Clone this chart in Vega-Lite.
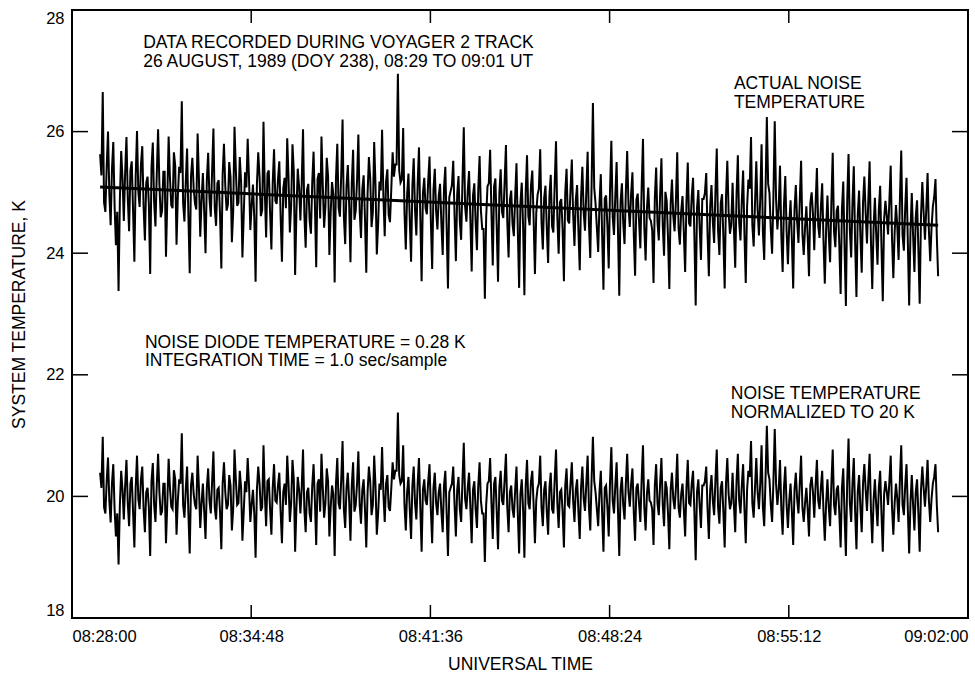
{
"$schema": "https://vega.github.io/schema/vega-lite/v6.json",
"width": 896, "height": 608,
"autosize": {"type": "none"},
"padding": {"left": 72, "top": 10, "right": 7, "bottom": 59},
"background": "white",
"config": {"view": {"stroke": "black", "strokeWidth": 2}, "font": "Liberation Sans"},
"datasets": {
"noise": [
{"s":64,"a":25.63,"b":20.39},{"s":70,"a":26.65,"b":20.98},{"s":76,"a":24.68,"b":19.72},{"s":82,"a":26.00,"b":20.64},{"s":88,"a":24.46,"b":19.57},{"s":94,"a":25.83,"b":20.53},{"s":100,"a":24.13,"b":19.34},{"s":106,"a":23.38,"b":18.88},{"s":112,"a":25.68,"b":20.42},{"s":118,"a":24.53,"b":19.62},
{"s":124,"a":25.91,"b":20.60},{"s":130,"a":24.36,"b":19.51},{"s":136,"a":25.51,"b":20.32},{"s":142,"a":23.86,"b":19.16},{"s":148,"a":26.01,"b":20.67},{"s":154,"a":24.76,"b":19.79},{"s":160,"a":25.76,"b":20.49},{"s":166,"a":24.21,"b":19.41},{"s":172,"a":25.26,"b":20.14},{"s":178,"a":23.66,"b":19.02},
{"s":184,"a":25.82,"b":20.55},{"s":190,"a":24.44,"b":19.58},{"s":196,"a":26.04,"b":20.70},{"s":202,"a":24.59,"b":19.69},{"s":208,"a":25.34,"b":20.21},{"s":214,"a":23.94,"b":19.23},{"s":220,"a":25.92,"b":20.62},{"s":226,"a":24.79,"b":19.83},{"s":232,"a":25.66,"b":20.43},{"s":238,"a":24.14,"b":19.37},
{"s":244,"a":25.42,"b":20.28},{"s":250,"a":26.50,"b":21.04},{"s":256,"a":24.52,"b":19.65},{"s":262,"a":25.72,"b":20.49},{"s":268,"a":23.67,"b":19.06},{"s":274,"a":25.57,"b":20.39},{"s":280,"a":24.82,"b":19.86},{"s":286,"a":25.97,"b":20.67},{"s":292,"a":24.27,"b":19.48},{"s":298,"a":25.32,"b":20.21},
{"s":304,"a":24.00,"b":19.30},{"s":310,"a":25.65,"b":20.46},{"s":316,"a":24.60,"b":19.72},{"s":322,"a":26.05,"b":20.74},{"s":328,"a":24.45,"b":19.62},{"s":334,"a":25.20,"b":20.14},{"s":340,"a":23.75,"b":19.13},{"s":346,"a":25.80,"b":20.56},{"s":352,"a":24.70,"b":19.79},{"s":358,"a":25.50,"b":20.35},
{"s":364,"a":24.18,"b":19.44},{"s":370,"a":26.08,"b":20.77},{"s":376,"a":24.78,"b":19.86},{"s":382,"a":25.58,"b":20.42},{"s":388,"a":23.93,"b":19.27},{"s":394,"a":25.33,"b":20.25},{"s":400,"a":25.88,"b":20.63},{"s":406,"a":24.38,"b":19.58},{"s":412,"a":25.13,"b":20.11},{"s":418,"a":23.53,"b":18.99},
{"s":424,"a":25.66,"b":20.49},{"s":430,"a":24.61,"b":19.76},{"s":436,"a":26.16,"b":20.84},{"s":442,"a":24.26,"b":19.51},{"s":448,"a":25.36,"b":20.28},{"s":454,"a":24.06,"b":19.37},{"s":460,"a":25.71,"b":20.53},{"s":466,"a":24.81,"b":19.90},{"s":472,"a":25.51,"b":20.39},{"s":478,"a":23.86,"b":19.23},
{"s":484,"a":25.24,"b":20.21},{"s":490,"a":25.89,"b":20.67},{"s":496,"a":24.34,"b":19.58},{"s":502,"a":25.79,"b":20.60},{"s":508,"a":23.64,"b":19.09},{"s":514,"a":25.39,"b":20.32},{"s":520,"a":24.54,"b":19.72},{"s":526,"a":26.04,"b":20.77},{"s":532,"a":24.09,"b":19.41},{"s":538,"a":25.14,"b":20.14},
{"s":544,"a":24.32,"b":19.58},{"s":550,"a":25.67,"b":20.53},{"s":556,"a":23.77,"b":19.20},{"s":562,"a":25.32,"b":20.28},{"s":568,"a":25.92,"b":20.70},{"s":574,"a":24.42,"b":19.65},{"s":580,"a":25.57,"b":20.46},{"s":586,"a":23.97,"b":19.34},{"s":592,"a":25.17,"b":20.18},{"s":598,"a":23.52,"b":19.02},
{"s":604,"a":25.80,"b":20.63},{"s":610,"a":24.60,"b":19.79},{"s":616,"a":26.20,"b":20.91},{"s":622,"a":24.15,"b":19.48},{"s":628,"a":25.45,"b":20.39},{"s":634,"a":23.85,"b":19.27},{"s":640,"a":25.70,"b":20.56},{"s":646,"a":24.70,"b":19.86},{"s":652,"a":25.95,"b":20.74},{"s":658,"a":24.25,"b":19.55},
{"s":664,"a":25.28,"b":20.28},{"s":670,"a":23.68,"b":19.16},{"s":676,"a":25.58,"b":20.49},{"s":682,"a":24.43,"b":19.69},{"s":688,"a":25.83,"b":20.67},{"s":694,"a":23.98,"b":19.37},{"s":700,"a":25.18,"b":20.21},{"s":706,"a":26.03,"b":20.81},{"s":712,"a":24.28,"b":19.58},{"s":718,"a":25.38,"b":20.35},
{"s":724,"a":24.51,"b":19.76},{"s":730,"a":25.66,"b":20.56},{"s":736,"a":25.46,"b":20.42},{"s":742,"a":26.95,"b":21.38},{"s":748,"a":25.16,"b":20.21},{"s":754,"a":26.06,"b":20.84},{"s":760,"a":24.06,"b":19.44},{"s":766,"a":25.31,"b":20.32},{"s":772,"a":23.86,"b":19.30},{"s":778,"a":25.56,"b":20.49},
{"s":784,"a":24.29,"b":19.62},{"s":790,"a":25.74,"b":20.63},{"s":796,"a":23.54,"b":19.09},{"s":802,"a":25.24,"b":20.28},{"s":808,"a":24.64,"b":19.86},{"s":814,"a":25.59,"b":20.53},{"s":820,"a":23.74,"b":19.23},{"s":826,"a":25.39,"b":20.39},{"s":832,"a":24.39,"b":19.69},{"s":838,"a":25.14,"b":20.21},
{"s":844,"a":23.97,"b":19.41},{"s":850,"a":25.42,"b":20.42},{"s":856,"a":23.42,"b":19.02},{"s":862,"a":25.02,"b":20.14},{"s":868,"a":25.52,"b":20.49},{"s":874,"a":23.87,"b":19.34},{"s":880,"a":25.27,"b":20.32},{"s":886,"a":24.22,"b":19.58},{"s":892,"a":26.07,"b":20.88},{"s":898,"a":24.52,"b":19.79},
{"s":904,"a":25.35,"b":20.39},{"s":910,"a":23.70,"b":19.23},{"s":916,"a":25.15,"b":20.25},{"s":922,"a":24.05,"b":19.48},{"s":928,"a":25.60,"b":20.56},{"s":934,"a":24.40,"b":19.72},{"s":940,"a":23.25,"b":18.92},{"s":946,"a":25.10,"b":20.21},{"s":952,"a":25.70,"b":20.63},{"s":958,"a":23.80,"b":19.30},
{"s":964,"a":25.23,"b":20.32},{"s":970,"a":23.53,"b":19.13},{"s":976,"a":25.38,"b":20.42},{"s":982,"a":24.58,"b":19.86},{"s":988,"a":25.78,"b":20.70},{"s":994,"a":23.93,"b":19.41},{"s":1000,"a":25.03,"b":20.18},{"s":1006,"a":24.28,"b":19.65},{"s":1012,"a":25.48,"b":20.49},{"s":1018,"a":23.43,"b":19.06},
{"s":1024,"a":25.16,"b":20.28},{"s":1030,"a":23.31,"b":18.99},{"s":1036,"a":25.61,"b":20.60},{"s":1042,"a":24.46,"b":19.79},{"s":1048,"a":25.36,"b":20.42},{"s":1054,"a":23.66,"b":19.23},{"s":1060,"a":24.96,"b":20.14},{"s":1066,"a":25.71,"b":20.67},{"s":1072,"a":24.06,"b":19.51},{"s":1078,"a":25.11,"b":20.25},
{"s":1084,"a":23.84,"b":19.37},{"s":1090,"a":25.29,"b":20.39},{"s":1096,"a":24.34,"b":19.72},{"s":1102,"a":25.84,"b":20.77},{"s":1108,"a":23.99,"b":19.48},{"s":1114,"a":24.89,"b":20.11},{"s":1120,"a":23.54,"b":19.16},{"s":1126,"a":25.39,"b":20.46},{"s":1132,"a":24.49,"b":19.83},{"s":1138,"a":25.54,"b":20.56},
{"s":1144,"a":24.12,"b":19.58},{"s":1150,"a":25.12,"b":20.28},{"s":1156,"a":23.72,"b":19.30},{"s":1162,"a":25.42,"b":20.49},{"s":1168,"a":24.37,"b":19.76},{"s":1174,"a":25.67,"b":20.67},{"s":1180,"a":23.92,"b":19.44},{"s":1186,"a":26.47,"b":20.98},{"s":1192,"a":24.82,"b":20.07},{"s":1198,"a":24.02,"b":19.51},
{"s":1204,"a":25.30,"b":20.42},{"s":1210,"a":23.40,"b":19.09},{"s":1216,"a":24.95,"b":20.18},{"s":1222,"a":23.75,"b":19.34},{"s":1228,"a":25.85,"b":20.81},{"s":1234,"a":24.30,"b":19.72},{"s":1240,"a":25.50,"b":20.56},{"s":1246,"a":23.30,"b":19.02},{"s":1252,"a":25.15,"b":20.32},{"s":1258,"a":24.15,"b":19.62},
{"s":1264,"a":25.68,"b":20.70},{"s":1270,"a":24.43,"b":19.83},{"s":1276,"a":25.33,"b":20.46},{"s":1282,"a":23.63,"b":19.27},{"s":1288,"a":24.98,"b":20.21},{"s":1294,"a":24.08,"b":19.58},{"s":1300,"a":25.88,"b":20.84},{"s":1306,"a":23.88,"b":19.44},{"s":1312,"a":25.08,"b":20.28},{"s":1318,"a":24.53,"b":19.90},
{"s":1324,"a":23.51,"b":19.20},{"s":1330,"a":25.41,"b":20.53},{"s":1336,"a":24.21,"b":19.69},{"s":1342,"a":25.56,"b":20.63},{"s":1348,"a":23.96,"b":19.51},{"s":1354,"a":24.86,"b":20.14},{"s":1360,"a":23.41,"b":19.13},{"s":1366,"a":25.21,"b":20.39},{"s":1372,"a":24.36,"b":19.79},{"s":1378,"a":25.66,"b":20.70},
{"s":1384,"a":24.14,"b":19.65},{"s":1390,"a":24.94,"b":20.21},{"s":1396,"a":23.69,"b":19.34},{"s":1402,"a":25.49,"b":20.60},{"s":1408,"a":24.44,"b":19.86},{"s":1414,"a":25.24,"b":20.42},{"s":1420,"a":23.14,"b":18.95},{"s":1426,"a":25.04,"b":20.28},{"s":1432,"a":23.89,"b":19.48},{"s":1438,"a":24.89,"b":20.18},
{"s":1444,"a":25.32,"b":20.49},{"s":1450,"a":23.62,"b":19.30},{"s":1456,"a":25.12,"b":20.35},{"s":1462,"a":24.17,"b":19.69},{"s":1468,"a":25.72,"b":20.77},{"s":1474,"a":23.97,"b":19.55},{"s":1480,"a":24.97,"b":20.25},{"s":1486,"a":23.42,"b":19.16},{"s":1492,"a":25.52,"b":20.63},{"s":1498,"a":24.32,"b":19.79},
{"s":1504,"a":25.16,"b":20.39},{"s":1510,"a":23.76,"b":19.41},{"s":1516,"a":25.61,"b":20.70},{"s":1522,"a":24.21,"b":19.72},{"s":1528,"a":25.36,"b":20.53},{"s":1534,"a":23.51,"b":19.23},{"s":1540,"a":25.21,"b":20.42},{"s":1546,"a":25.91,"b":20.91},{"s":1552,"a":24.11,"b":19.65},{"s":1558,"a":25.51,"b":20.63},
{"s":1564,"a":24.29,"b":19.79},{"s":1570,"a":25.79,"b":20.84},{"s":1576,"a":23.89,"b":19.51},{"s":1582,"a":26.24,"b":21.16},{"s":1588,"a":24.99,"b":20.28},{"s":1594,"a":23.99,"b":19.58},{"s":1600,"a":26.17,"b":21.11},{"s":1606,"a":24.39,"b":19.86},{"s":1612,"a":25.44,"b":20.60},{"s":1618,"a":23.69,"b":19.37},
{"s":1624,"a":25.27,"b":20.49},{"s":1630,"a":23.82,"b":19.48},{"s":1636,"a":24.87,"b":20.21},{"s":1642,"a":23.42,"b":19.20},{"s":1648,"a":25.12,"b":20.39},{"s":1654,"a":24.17,"b":19.72},{"s":1660,"a":25.52,"b":20.67},{"s":1666,"a":23.97,"b":19.58},{"s":1672,"a":24.77,"b":20.14},{"s":1678,"a":23.62,"b":19.34},
{"s":1684,"a":25.00,"b":20.32},{"s":1690,"a":24.05,"b":19.65},{"s":1696,"a":25.40,"b":20.60},{"s":1702,"a":24.25,"b":19.79},{"s":1708,"a":25.15,"b":20.42},{"s":1714,"a":23.50,"b":19.27},{"s":1720,"a":24.95,"b":20.28},{"s":1726,"a":23.85,"b":19.51},{"s":1732,"a":25.65,"b":20.77},{"s":1738,"a":24.10,"b":19.69},
{"s":1744,"a":24.78,"b":20.18},{"s":1750,"a":23.33,"b":19.16},{"s":1756,"a":25.18,"b":20.46},{"s":1762,"a":23.13,"b":19.02},{"s":1768,"a":25.63,"b":20.95},{"s":1774,"a":23.93,"b":19.58},{"s":1780,"a":25.43,"b":20.63},{"s":1786,"a":23.28,"b":19.13},{"s":1792,"a":25.03,"b":20.35},{"s":1798,"a":23.68,"b":19.41},
{"s":1804,"a":25.26,"b":20.53},{"s":1810,"a":24.16,"b":19.76},{"s":1816,"a":25.51,"b":20.70},{"s":1822,"a":23.41,"b":19.23},{"s":1828,"a":24.91,"b":20.28},{"s":1834,"a":23.81,"b":19.51},{"s":1840,"a":25.11,"b":20.42},{"s":1846,"a":23.21,"b":19.09},{"s":1852,"a":24.86,"b":20.25},{"s":1858,"a":24.31,"b":19.86},
{"s":1864,"a":25.44,"b":20.67},{"s":1870,"a":23.59,"b":19.37},{"s":1876,"a":24.79,"b":20.21},{"s":1882,"a":23.89,"b":19.58},{"s":1888,"a":25.69,"b":20.84},{"s":1894,"a":24.04,"b":19.69},{"s":1900,"a":25.24,"b":20.53},{"s":1906,"a":23.14,"b":19.06},{"s":1912,"a":24.99,"b":20.35},{"s":1918,"a":23.69,"b":19.44},
{"s":1924,"a":24.87,"b":20.28},{"s":1930,"a":23.17,"b":19.09},{"s":1936,"a":25.17,"b":20.49},{"s":1942,"a":24.22,"b":19.83},{"s":1948,"a":25.32,"b":20.60},{"s":1954,"a":23.87,"b":19.58},{"s":1960,"a":24.77,"b":20.21},{"s":1966,"a":25.22,"b":20.53},{"s":1972,"a":23.62,"b":19.41},
{"s":67,"a":25.28,"b":20.14},{"s":73,"a":24.83,"b":19.82},{"s":79,"a":25.43,"b":20.25},{"s":85,"a":24.98,"b":19.93},{"s":91,"a":25.38,"b":20.21},{"s":97,"a":24.78,"b":19.79},{"s":103,"a":24.68,"b":19.72},{"s":109,"a":24.88,"b":19.86},{"s":115,"a":25.23,"b":20.11},{"s":121,"a":25.33,"b":20.18},
{"s":127,"a":24.91,"b":19.89},{"s":133,"a":25.36,"b":20.21},{"s":139,"a":24.71,"b":19.75},{"s":145,"a":25.26,"b":20.14},{"s":151,"a":25.01,"b":19.96},{"s":157,"a":25.46,"b":20.28},{"s":163,"a":24.76,"b":19.79},{"s":169,"a":25.16,"b":20.07},{"s":175,"a":24.81,"b":19.82},{"s":181,"a":25.41,"b":20.25},
{"s":187,"a":24.84,"b":19.86},{"s":193,"a":25.29,"b":20.18},{"s":199,"a":25.14,"b":20.07},{"s":205,"a":24.69,"b":19.75},{"s":211,"a":25.34,"b":20.21},{"s":217,"a":24.89,"b":19.89},{"s":223,"a":25.24,"b":20.14},{"s":229,"a":24.74,"b":19.79},{"s":235,"a":25.44,"b":20.28},{"s":241,"a":24.94,"b":19.93},
{"s":247,"a":25.32,"b":20.21},{"s":253,"a":24.82,"b":19.86},{"s":259,"a":25.17,"b":20.11},{"s":265,"a":24.62,"b":19.72},{"s":271,"a":25.27,"b":20.18},{"s":277,"a":25.07,"b":20.04},{"s":283,"a":24.72,"b":19.79},{"s":289,"a":25.22,"b":20.14},{"s":295,"a":24.87,"b":19.89},{"s":301,"a":24.67,"b":19.75},
{"s":307,"a":25.20,"b":20.14},{"s":313,"a":24.90,"b":19.93},{"s":319,"a":25.35,"b":20.25},{"s":325,"a":24.75,"b":19.82},{"s":331,"a":25.15,"b":20.11},{"s":337,"a":24.65,"b":19.75},{"s":343,"a":25.30,"b":20.21},{"s":349,"a":25.10,"b":20.07},{"s":355,"a":24.80,"b":19.86},{"s":361,"a":25.25,"b":20.18},
{"s":367,"a":24.68,"b":19.79},{"s":373,"a":25.38,"b":20.28},{"s":379,"a":24.83,"b":19.89},{"s":385,"a":25.18,"b":20.14},{"s":391,"a":24.63,"b":19.75},{"s":397,"a":25.08,"b":20.07},{"s":403,"a":25.23,"b":20.18},{"s":409,"a":24.78,"b":19.86},{"s":415,"a":24.58,"b":19.72},{"s":421,"a":25.13,"b":20.11},
{"s":427,"a":25.26,"b":20.21},{"s":433,"a":24.71,"b":19.82},{"s":439,"a":25.01,"b":20.04},{"s":445,"a":25.31,"b":20.25},{"s":451,"a":24.66,"b":19.79},{"s":457,"a":25.16,"b":20.14},{"s":463,"a":24.86,"b":19.93},{"s":469,"a":25.21,"b":20.18},{"s":475,"a":24.61,"b":19.75},{"s":481,"a":25.06,"b":20.07},
{"s":487,"a":24.74,"b":19.86},{"s":493,"a":25.24,"b":20.21},{"s":499,"a":24.79,"b":19.89},{"s":505,"a":25.34,"b":20.28},{"s":511,"a":24.69,"b":19.82},{"s":517,"a":25.09,"b":20.11},{"s":523,"a":25.14,"b":20.14},{"s":529,"a":24.64,"b":19.79},{"s":535,"a":25.04,"b":20.07},{"s":541,"a":24.54,"b":19.72},
{"s":547,"a":25.17,"b":20.18},{"s":553,"a":24.82,"b":19.93},{"s":559,"a":25.22,"b":20.21},{"s":565,"a":24.57,"b":19.75},{"s":571,"a":25.12,"b":20.14},{"s":577,"a":24.77,"b":19.89},{"s":583,"a":25.27,"b":20.25},{"s":589,"a":24.67,"b":19.82},{"s":595,"a":24.97,"b":20.04},{"s":601,"a":25.22,"b":20.21},
{"s":607,"a":24.75,"b":19.89},{"s":613,"a":25.30,"b":20.28},{"s":619,"a":24.60,"b":19.79},{"s":625,"a":25.10,"b":20.14},{"s":631,"a":24.80,"b":19.93},{"s":637,"a":25.15,"b":20.18},{"s":643,"a":24.55,"b":19.75},{"s":649,"a":25.20,"b":20.21},{"s":655,"a":24.70,"b":19.86},{"s":661,"a":25.05,"b":20.11},
{"s":667,"a":24.58,"b":19.79},{"s":673,"a":24.98,"b":20.07},{"s":679,"a":25.23,"b":20.25},{"s":685,"a":24.68,"b":19.86},{"s":691,"a":25.13,"b":20.18},{"s":697,"a":24.48,"b":19.72},{"s":703,"a":25.03,"b":20.11},{"s":709,"a":24.93,"b":20.04},{"s":715,"a":25.18,"b":20.21},{"s":721,"a":24.63,"b":19.82},
{"s":727,"a":25.06,"b":20.14},{"s":733,"a":25.26,"b":20.28},{"s":739,"a":25.46,"b":20.42},{"s":745,"a":25.36,"b":20.35},{"s":751,"a":25.21,"b":20.25},{"s":757,"a":24.66,"b":19.86},{"s":763,"a":24.96,"b":20.07},{"s":769,"a":24.56,"b":19.79},{"s":775,"a":25.11,"b":20.18},{"s":781,"a":24.71,"b":19.89},
{"s":787,"a":25.14,"b":20.21},{"s":793,"a":24.59,"b":19.82},{"s":799,"a":24.99,"b":20.11},{"s":805,"a":24.74,"b":19.93},{"s":811,"a":25.19,"b":20.25},{"s":817,"a":24.54,"b":19.79},{"s":823,"a":25.04,"b":20.14},{"s":829,"a":24.69,"b":19.89},{"s":835,"a":24.94,"b":20.07},{"s":841,"a":24.49,"b":19.75},
{"s":847,"a":25.07,"b":20.18},{"s":853,"a":24.42,"b":19.72},{"s":859,"a":24.92,"b":20.07},{"s":865,"a":25.12,"b":20.21},{"s":871,"a":24.62,"b":19.86},{"s":877,"a":24.97,"b":20.11},{"s":883,"a":24.52,"b":19.79},{"s":889,"a":25.17,"b":20.25},{"s":895,"a":24.77,"b":19.96},{"s":901,"a":25.02,"b":20.14},
{"s":907,"a":24.55,"b":19.82},{"s":913,"a":24.95,"b":20.11},{"s":919,"a":24.50,"b":19.79},{"s":925,"a":25.05,"b":20.18},{"s":931,"a":24.70,"b":19.93},{"s":937,"a":24.40,"b":19.72},{"s":943,"a":24.60,"b":19.86},{"s":949,"a":25.15,"b":20.25},{"s":955,"a":24.65,"b":19.89},{"s":961,"a":25.10,"b":20.21},
{"s":967,"a":24.43,"b":19.75},{"s":973,"a":24.98,"b":20.14},{"s":979,"a":24.68,"b":19.93},{"s":985,"a":25.18,"b":20.28},{"s":991,"a":24.53,"b":19.82},{"s":997,"a":24.88,"b":20.07},{"s":1003,"a":24.48,"b":19.79},{"s":1009,"a":24.93,"b":20.11},{"s":1015,"a":24.38,"b":19.72},{"s":1021,"a":24.83,"b":20.04},
{"s":1027,"a":24.46,"b":19.79},{"s":1033,"a":25.01,"b":20.18},{"s":1039,"a":24.61,"b":19.89},{"s":1045,"a":25.11,"b":20.25},{"s":1051,"a":24.56,"b":19.86},{"s":1057,"a":24.66,"b":19.93},{"s":1063,"a":25.06,"b":20.21},{"s":1069,"a":24.51,"b":19.82},{"s":1075,"a":24.91,"b":20.11},{"s":1081,"a":24.41,"b":19.75},
{"s":1087,"a":24.94,"b":20.14},{"s":1093,"a":24.44,"b":19.79},{"s":1099,"a":25.14,"b":20.28},{"s":1105,"a":24.59,"b":19.89},{"s":1111,"a":24.84,"b":20.07},{"s":1117,"a":24.39,"b":19.75},{"s":1123,"a":24.99,"b":20.18},{"s":1129,"a":24.54,"b":19.86},{"s":1135,"a":25.04,"b":20.21},{"s":1141,"a":24.64,"b":19.93},
{"s":1147,"a":24.87,"b":20.11},{"s":1153,"a":24.37,"b":19.75},{"s":1159,"a":24.92,"b":20.14},{"s":1165,"a":24.67,"b":19.96},{"s":1171,"a":25.02,"b":20.21},{"s":1177,"a":24.47,"b":19.82},{"s":1183,"a":25.12,"b":20.28},{"s":1189,"a":25.07,"b":20.25},{"s":1195,"a":24.42,"b":19.79},{"s":1201,"a":24.82,"b":20.07},
{"s":1207,"a":24.30,"b":19.72},{"s":1213,"a":24.90,"b":20.14},{"s":1219,"a":24.45,"b":19.82},{"s":1225,"a":25.05,"b":20.25},{"s":1231,"a":24.60,"b":19.93},{"s":1237,"a":24.95,"b":20.18},{"s":1243,"a":24.40,"b":19.79},{"s":1249,"a":24.85,"b":20.11},{"s":1255,"a":24.50,"b":19.86},{"s":1261,"a":25.00,"b":20.21},
{"s":1267,"a":24.78,"b":20.07},{"s":1273,"a":24.98,"b":20.21},{"s":1279,"a":24.33,"b":19.75},{"s":1285,"a":24.88,"b":20.14},{"s":1291,"a":24.53,"b":19.89},{"s":1297,"a":25.08,"b":20.28},{"s":1303,"a":24.43,"b":19.82},{"s":1309,"a":24.73,"b":20.04},{"s":1315,"a":24.58,"b":19.93},{"s":1321,"a":24.38,"b":19.79},
{"s":1327,"a":24.91,"b":20.18},{"s":1333,"a":24.51,"b":19.89},{"s":1339,"a":24.96,"b":20.21},{"s":1345,"a":24.46,"b":19.86},{"s":1351,"a":25.01,"b":20.25},{"s":1357,"a":24.26,"b":19.72},{"s":1363,"a":24.81,"b":20.11},{"s":1369,"a":24.61,"b":19.96},{"s":1375,"a":24.86,"b":20.14},{"s":1381,"a":24.41,"b":19.82},
{"s":1387,"a":24.69,"b":20.04},{"s":1393,"a":24.34,"b":19.79},{"s":1399,"a":24.84,"b":20.14},{"s":1405,"a":24.49,"b":19.89},{"s":1411,"a":24.94,"b":20.21},{"s":1417,"a":24.29,"b":19.75},{"s":1423,"a":24.74,"b":20.07},{"s":1429,"a":24.44,"b":19.86},{"s":1435,"a":24.89,"b":20.18},{"s":1441,"a":24.99,"b":20.25},
{"s":1447,"a":24.32,"b":19.79},{"s":1453,"a":24.77,"b":20.11},{"s":1459,"a":24.52,"b":19.93},{"s":1465,"a":25.02,"b":20.28},{"s":1471,"a":24.37,"b":19.82},{"s":1477,"a":24.82,"b":20.14},{"s":1483,"a":24.27,"b":19.75},{"s":1489,"a":24.92,"b":20.21},{"s":1495,"a":24.67,"b":20.04},{"s":1501,"a":24.47,"b":19.89},
{"s":1507,"a":24.41,"b":19.86},{"s":1513,"a":24.96,"b":20.25},{"s":1519,"a":24.51,"b":19.93},{"s":1525,"a":24.86,"b":20.18},{"s":1531,"a":24.31,"b":19.79},{"s":1537,"a":24.76,"b":20.11},{"s":1543,"a":25.06,"b":20.32},{"s":1549,"a":24.46,"b":19.89},{"s":1555,"a":24.81,"b":20.14},{"s":1561,"a":24.71,"b":20.07},
{"s":1567,"a":24.89,"b":20.21},{"s":1573,"a":24.34,"b":19.82},{"s":1579,"a":24.99,"b":20.28},{"s":1585,"a":25.14,"b":20.39},{"s":1591,"a":24.39,"b":19.86},{"s":1597,"a":24.94,"b":20.25},{"s":1603,"a":24.89,"b":20.21},{"s":1609,"a":24.74,"b":20.11},{"s":1615,"a":24.29,"b":19.79},{"s":1621,"a":24.79,"b":20.14},
{"s":1627,"a":24.37,"b":19.86},{"s":1633,"a":24.47,"b":19.93},{"s":1639,"a":24.22,"b":19.75},{"s":1645,"a":24.72,"b":20.11},{"s":1651,"a":24.52,"b":19.96},{"s":1657,"a":24.87,"b":20.21},{"s":1663,"a":24.32,"b":19.82},{"s":1669,"a":24.42,"b":19.89},{"s":1675,"a":24.27,"b":19.79},{"s":1681,"a":24.82,"b":20.18},
{"s":1687,"a":24.65,"b":20.07},{"s":1693,"a":24.80,"b":20.18},{"s":1699,"a":24.45,"b":19.93},{"s":1705,"a":24.75,"b":20.14},{"s":1711,"a":24.20,"b":19.75},{"s":1717,"a":24.40,"b":19.89},{"s":1723,"a":24.30,"b":19.82},{"s":1729,"a":24.85,"b":20.21},{"s":1735,"a":24.35,"b":19.86},{"s":1741,"a":24.70,"b":20.11},
{"s":1747,"a":24.13,"b":19.72},{"s":1753,"a":24.73,"b":20.14},{"s":1759,"a":24.08,"b":19.68},{"s":1765,"a":24.88,"b":20.25},{"s":1771,"a":24.38,"b":19.89},{"s":1777,"a":24.83,"b":20.21},{"s":1783,"a":24.18,"b":19.75},{"s":1789,"a":24.63,"b":20.07},{"s":1795,"a":24.28,"b":19.82},{"s":1801,"a":24.83,"b":20.21},
{"s":1807,"a":24.66,"b":20.11},{"s":1813,"a":24.86,"b":20.25},{"s":1819,"a":24.21,"b":19.79},{"s":1825,"a":24.41,"b":19.93},{"s":1831,"a":24.31,"b":19.86},{"s":1837,"a":24.71,"b":20.14},{"s":1843,"a":24.11,"b":19.72},{"s":1849,"a":24.56,"b":20.04},{"s":1855,"a":24.61,"b":20.07},{"s":1861,"a":24.86,"b":20.25},
{"s":1867,"a":24.24,"b":19.82},{"s":1873,"a":24.34,"b":19.89},{"s":1879,"a":24.44,"b":19.96},{"s":1885,"a":24.89,"b":20.28},{"s":1891,"a":24.29,"b":19.86},{"s":1897,"a":24.74,"b":20.18},{"s":1903,"a":24.19,"b":19.79},{"s":1909,"a":24.34,"b":19.89},{"s":1915,"a":24.29,"b":19.86},{"s":1921,"a":24.59,"b":20.07},
{"s":1927,"a":24.07,"b":19.72},{"s":1933,"a":24.62,"b":20.11},{"s":1939,"a":24.67,"b":20.14},{"s":1945,"a":24.72,"b":20.18},{"s":1951,"a":24.37,"b":19.93},{"s":1957,"a":24.42,"b":19.96},{"s":1963,"a":24.92,"b":20.32},{"s":1969,"a":24.27,"b":19.86}
],
"trend": [{"s":64,"t":25.09},{"s":1000,"t":24.78},{"s":1972,"t":24.46}],
"yticks": [{"v":20},{"v":22},{"v":24},{"v":26}],
"xticks": [{"v":408},{"v":816},{"v":1224},{"v":1632}],
"notes": [
{"s":162,"y":27.37,"t":"DATA RECORDED DURING VOYAGER 2 TRACK"},
{"s":162,"y":27.06,"t":"26 AUGUST, 1989 (DOY 238), 08:29 TO 09:01 UT"},
{"s":1507,"y":26.70,"t":"ACTUAL NOISE"},
{"s":1507,"y":26.39,"t":"TEMPERATURE"},
{"s":166,"y":22.44,"t":"NOISE DIODE TEMPERATURE = 0.28 K"},
{"s":166,"y":22.14,"t":"INTEGRATION TIME = 1.0 sec/sample"},
{"s":1500,"y":21.60,"t":"NOISE TEMPERATURE"},
{"s":1500,"y":21.29,"t":"NORMALIZED TO 20 K"}
]
},
"layer": [
{"data": {"name": "noise"},
 "mark": {"type": "line", "color": "black", "strokeWidth": 2},
 "encoding": {
  "x": {"field": "s", "type": "quantitative", "scale": {"domain": [0, 2040], "nice": false, "zero": false},
   "axis": {"orient": "bottom", "values": [0,408,816,1224,1632,2040],
    "labelExpr": "timeFormat(datetime(2000, 0, 1, 8, 28, datum.value), '%H:%M:%S')",
    "title": "UNIVERSAL TIME", "domain": false, "grid": false, "ticks": false,
    "labelPadding": 10, "labelFlush": true,
    "labelFontSize": 16.5, "labelColor": "black", "labelFont": "Liberation Sans",
    "titleFont": "Liberation Sans", "titleFontSize": 17.5, "titleFontWeight": "normal", "titleColor": "black", "titlePadding": 11}},
  "y": {"field": "a", "type": "quantitative", "scale": {"domain": [18, 28], "nice": false, "zero": false},
   "axis": {"orient": "left", "values": [18,20,22,24,26,28], "format": "d", "title": "SYSTEM TEMPERATURE, K", "domain": false, "grid": false, "ticks": false,
    "labelPadding": 8, "labelFlush": true,
    "labelFontSize": 16.5, "labelColor": "black", "labelFont": "Liberation Sans",
    "titleFont": "Liberation Sans", "titleFontSize": 17.5, "titleFontWeight": "normal", "titleColor": "black", "titlePadding": 17}},
  "order": {"field": "s", "type": "quantitative"}
 }},
{"data": {"name": "noise"},
 "mark": {"type": "line", "color": "black", "strokeWidth": 2},
 "encoding": {
  "x": {"field": "s", "type": "quantitative"},
  "y": {"field": "b", "type": "quantitative"},
  "order": {"field": "s", "type": "quantitative"}
 }},
{"data": {"name": "trend"},
 "mark": {"type": "line", "color": "black", "strokeWidth": 3},
 "encoding": {
  "x": {"field": "s", "type": "quantitative"},
  "y": {"field": "t", "type": "quantitative"}
 }},
{"data": {"name": "yticks"},
 "mark": {"type": "tick", "orient": "horizontal", "size": 32, "thickness": 1.5, "color": "black", "opacity": 1, "clip": true},
 "encoding": {"y": {"field": "v", "type": "quantitative"}, "x": {"datum": 0, "type": "quantitative"}}},
{"data": {"name": "yticks"},
 "mark": {"type": "tick", "orient": "horizontal", "size": 32, "thickness": 1.5, "color": "black", "opacity": 1, "clip": true},
 "encoding": {"y": {"field": "v", "type": "quantitative"}, "x": {"datum": 2040, "type": "quantitative"}}},
{"data": {"name": "xticks"},
 "mark": {"type": "tick", "orient": "vertical", "size": 26, "thickness": 1.5, "color": "black", "opacity": 1, "clip": true},
 "encoding": {"x": {"field": "v", "type": "quantitative"}, "y": {"datum": 18, "type": "quantitative"}}},
{"data": {"name": "xticks"},
 "mark": {"type": "tick", "orient": "vertical", "size": 26, "thickness": 1.5, "color": "black", "opacity": 1, "clip": true},
 "encoding": {"x": {"field": "v", "type": "quantitative"}, "y": {"datum": 28, "type": "quantitative"}}},
{"data": {"name": "notes"},
 "mark": {"type": "text", "align": "left", "baseline": "alphabetic", "fontSize": 17.5, "font": "Liberation Sans", "color": "black"},
 "encoding": {
  "x": {"field": "s", "type": "quantitative"},
  "y": {"field": "y", "type": "quantitative"},
  "text": {"field": "t"}
 }}
]
}
